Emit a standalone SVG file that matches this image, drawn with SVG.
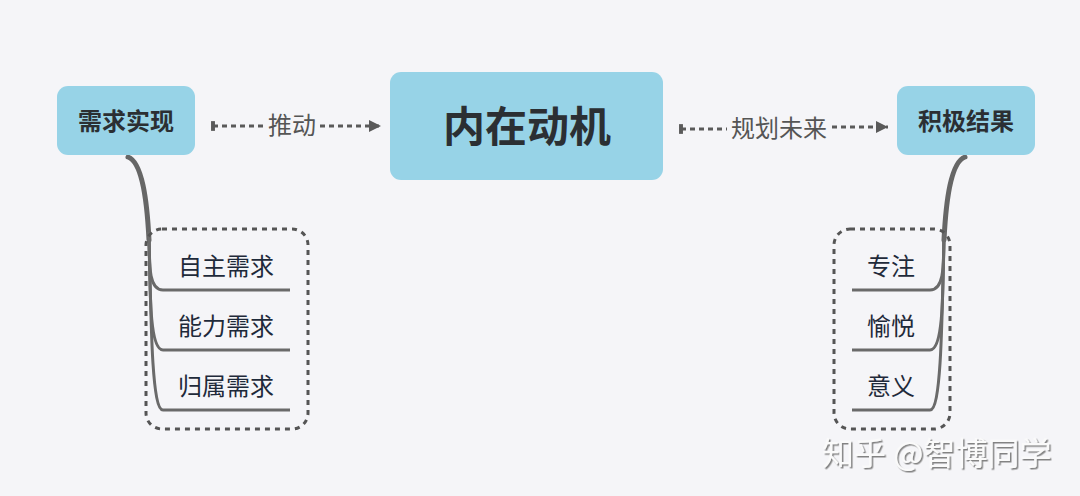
<svg xmlns="http://www.w3.org/2000/svg" width="1080" height="496" viewBox="0 0 1080 496">
<defs>
<style>
.box{fill:#97d3e7;}
.main{font-family:"Noto Sans CJK SC","Noto Sans",sans-serif;font-weight:bold;fill:#2b2f33;text-anchor:middle;}
.sub{font-family:"Noto Sans CJK SC","Noto Sans",sans-serif;font-size:24px;fill:#1f2a3a;text-anchor:middle;}
.lbl{font-family:"Noto Sans CJK SC","Noto Sans",sans-serif;font-size:24px;fill:#555;text-anchor:middle;}
.dash{stroke:#5a5a5a;stroke-width:3;stroke-dasharray:5 4;fill:none;}
.trunk{stroke:#666;stroke-width:5;fill:none;stroke-linecap:round;}
.br{stroke:#6a6a6a;stroke-width:3;fill:none;}
.grp{fill:none;stroke:#555;stroke-width:3;stroke-dasharray:5 5;}
</style>
<marker id="arr" viewBox="0 0 10 10" refX="10" refY="5" markerWidth="4" markerHeight="4" orient="auto" markerUnits="strokeWidth">
<path d="M0,0 L10,5 L0,10 z" fill="#5a5a5a"/>
</marker>
<marker id="bar" viewBox="0 0 4 10" refX="2" refY="5" markerWidth="1.3" markerHeight="4" orient="auto" markerUnits="strokeWidth">
<rect x="0" y="0" width="4" height="10" fill="#5a5a5a"/>
</marker>
<filter id="sh" x="-10%" y="-30%" width="130%" height="170%">
<feDropShadow dx="1.5" dy="1.5" stdDeviation="0.6" flood-color="#777" flood-opacity="0.9"/>
</filter>
</defs>
<rect width="1080" height="496" fill="#f5f5f8"/>
<g id="connectors">
<path class="dash" d="M213,126 L265,126" marker-start="url(#bar)"/>
<path class="dash" d="M320,126 L381,126" marker-end="url(#arr)"/>
<text class="lbl" x="292" y="134">推动</text>
<path class="dash" d="M681,129 L727,129" marker-start="url(#bar)"/>
<path class="dash" d="M832,127 L888,127" marker-end="url(#arr)"/>
<text class="lbl" x="779" y="137">规划未来</text>
<path class="trunk" d="M128,157 C142,162 147,200 149,240"/>
<path class="br" d="M149,232 C149,272 150,290 163,290 L290,290"/>
<path class="br" d="M149,232 C150,300 150,350 163,350 L290,350"/>
<path class="br" d="M149,232 C151,330 152,410 163,410 L290,410"/>
<path class="trunk" d="M965,157 C951,162 946,200 944,240"/>
<path class="br" d="M944,232 C944,272 943,290 930,290 L852,290"/>
<path class="br" d="M944,232 C943,300 943,350 930,350 L852,350"/>
<path class="br" d="M944,232 C942,330 941,410 930,410 L852,410"/>
</g>
<g id="n-need">
<rect class="box" x="57" y="86" width="138" height="69" rx="11"/>
<text class="main" x="126" y="130" font-size="24">需求实现</text>
</g>
<g id="n-motive">
<rect class="box" x="390" y="72" width="273" height="108" rx="11"/>
<text class="main" x="527" y="142" font-size="42">内在动机</text>
</g>
<g id="n-result">
<rect class="box" x="897" y="86" width="138" height="69" rx="11"/>
<text class="main" x="966" y="130" font-size="24">积极结果</text>
</g>
<g id="g-left">
<rect class="grp" x="146" y="229" width="162" height="200" rx="16"/>
</g>
<g id="n-auto"><text class="sub" x="226" y="275">自主需求</text></g>
<g id="n-comp"><text class="sub" x="226" y="335">能力需求</text></g>
<g id="n-belong"><text class="sub" x="226" y="395">归属需求</text></g>
<g id="g-right">
<rect class="grp" x="834" y="229" width="116" height="200" rx="16"/>
</g>
<g id="n-focus"><text class="sub" x="891" y="275">专注</text></g>
<g id="n-joy"><text class="sub" x="891" y="335">愉悦</text></g>
<g id="n-meaning"><text class="sub" x="891" y="395">意义</text></g>
<text x="822" y="465" font-family="Noto Sans CJK SC, Noto Sans, sans-serif" font-size="32" fill="#fafafa" filter="url(#sh)">知乎 @智博同学</text>
</svg>
